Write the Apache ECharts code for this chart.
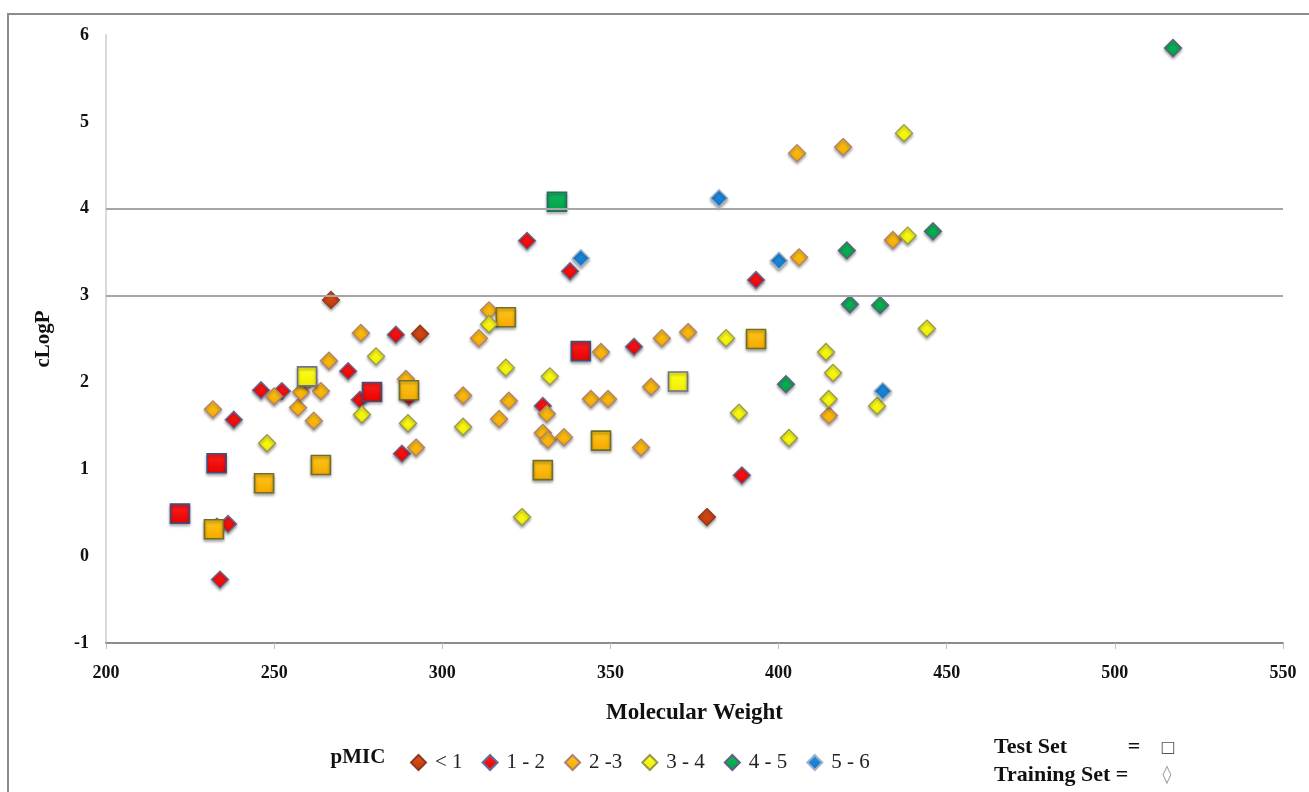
<!DOCTYPE html>
<html>
<head>
<meta charset="utf-8">
<script src="https://cdn.jsdelivr.net/npm/echarts@6/dist/echarts.min.js"></script>
<style>
html,body{margin:0;padding:0;background:#fff;}
#chart{width:1309px;height:792px;}
</style>
</head>
<body>
<div id="chart"></div>
<script>
// ---- Data (Molecular Weight, cLogP) ----
const classNames = ['< 1', '1 - 2', '2 -3', '3 - 4', '4 - 5', '5 - 6'];

// training set (diamonds)
const trainLt1 = [[266.9,2.95],[293.4,2.56],[378.7,0.45]];
const train12 = [[233.0,0.34],[236.3,0.37],[233.9,-0.27],[238.0,1.57],[246.1,1.91],[252.3,1.90],[272.0,2.13],[286.2,2.55],[275.5,1.80],[290.1,1.83],[288.0,1.18],[325.2,3.63],[338.0,3.28],[357.0,2.41],[329.9,1.73],[393.3,3.18],[389.1,0.93]];
const train23 = [[231.8,1.69],[250.0,1.84],[257.1,1.71],[258.0,1.89],[260.1,2.03],[263.9,1.90],[261.8,1.56],[266.3,2.25],[275.8,2.57],[289.2,2.04],[292.2,1.25],[313.9,2.83],[310.9,2.51],[347.2,2.35],[365.3,2.51],[306.2,1.85],[319.8,1.79],[331.1,1.64],[316.9,1.58],[344.2,1.81],[349.3,1.81],[362.1,1.95],[329.9,1.42],[331.4,1.34],[336.2,1.37],[359.1,1.25],[373.1,2.58],[406.1,3.44],[434.0,3.64],[415.0,1.62],[405.5,4.64],[419.2,4.71]];
const train34 = [[247.9,1.30],[280.3,2.30],[276.1,1.63],[289.8,1.53],[313.9,2.67],[318.9,2.17],[332.0,2.07],[306.2,1.49],[323.7,0.45],[438.4,3.69],[444.1,2.62],[384.4,2.51],[414.1,2.35],[416.2,2.11],[414.9,1.81],[429.3,1.73],[388.2,1.65],[403.1,1.36],[437.3,4.87]];
const train45 = [[420.3,3.52],[445.9,3.74],[421.2,2.90],[430.2,2.89],[402.2,1.98],[517.3,5.85]];
const train56 = [[341.2,3.43],[382.3,4.12],[400.1,3.40],[431.0,1.90]];

// test set (squares)
const testLt1 = [];
const test12 = [[222.0,0.49],[232.9,1.07],[279.1,1.89],[341.2,2.36]];
const test23 = [[232.1,0.31],[247.0,0.84],[263.9,1.05],[290.1,1.91],[318.9,2.75],[347.2,1.33],[329.9,0.99],[393.3,2.50]];
const test34 = [[259.8,2.07],[370.1,2.01]];
const test45 = [[334.1,4.08]];
const test56 = [];

const xTicks = [200, 250, 300, 350, 400, 450, 500, 550];
const yTicks = [-1, 0, 1, 2, 3, 4, 5, 6];
const gridLinesY = [3, 4];

// ---- Styles ----
const styles = [
  {light:'#e2561a', dark:'#c2340a', border:'#8a3a20', testBorder:'#6a2a10'},
  {light:'#ff2020', dark:'#e80000', border:'#5a6f9a', testBorder:'#3d4f7a'},
  {light:'#ffc81a', dark:'#f5a800', border:'#b08070', testBorder:'#6f6f2a'},
  {light:'#ffff20', dark:'#eeee00', border:'#98984a', testBorder:'#6f6f8f'},
  {light:'#14b85a', dark:'#00a04a', border:'#5e5e80', testBorder:'#2a6a6a'},
  {light:'#2590e0', dark:'#1276c8', border:'#9fb0c8', testBorder:'#506080'}
];
const trains = [trainLt1, train12, train23, train34, train45, train56];
const tests = [testLt1, test12, test23, test34, test45, test56];

function fill(s){
  return new echarts.graphic.LinearGradient(0, 0, 0, 1, [
    {offset:0, color:s.light},{offset:1, color:s.dark}
  ]);
}

const serif = "'Liberation Serif','Times New Roman',serif";

const series = [{
  type:'scatter', name:'grid', data:[], z:1, silent:true,
  markLine:{
    silent:true, symbol:['none','none'], label:{show:false},
    lineStyle:{color:'#a6a6a6', width:2, type:'solid'},
    data: gridLinesY.map(v => ({yAxis:v}))
  }
}];
classNames.forEach((name, i) => {
  const s = styles[i];
  const data = [];
  trains[i].forEach(p => data.push({value:p}));
  tests[i].forEach(p => data.push({
    value:p, symbol:'rect', symbolSize:19,
    itemStyle:{borderColor:s.testBorder, borderWidth:1.6}
  }));
  series.push({
    type:'scatter', name:name, z:2,
    symbol:'diamond', symbolSize:17,
    itemStyle:{
      color:fill(s), borderColor:s.border, borderWidth:1.3, opacity:1,
      shadowBlur:3, shadowOffsetY:2, shadowColor:'rgba(0,0,0,0.35)'
    },
    data:data
  });
});

const chart = echarts.init(document.getElementById('chart'));
chart.setOption({
  animation:false,
  backgroundColor:'#ffffff',
  grid:{left:106, right:26, top:35, bottom:149},
  xAxis:{
    type:'value', min:xTicks[0], max:xTicks[xTicks.length-1], interval:50,
    name:'Molecular Weight', nameLocation:'middle', nameGap:59,
    nameTextStyle:{fontFamily:serif, fontWeight:'bold', fontSize:23, color:'#111'},
    axisLine:{show:true, onZero:false, lineStyle:{color:'#8c8c8c', width:2}},
    axisTick:{show:true, length:6, inside:false, lineStyle:{color:'#c0c0c0', width:1}},
    axisLabel:{fontFamily:serif, fontWeight:'bold', fontSize:18, color:'#111', margin:21},
    splitLine:{show:false}
  },
  yAxis:{
    type:'value', min:yTicks[0], max:yTicks[yTicks.length-1], interval:1,
    name:'cLogP', nameLocation:'middle', nameGap:52, nameRotate:90,
    nameTextStyle:{fontFamily:serif, fontWeight:'bold', fontSize:21, color:'#111'},
    axisLine:{show:true, onZero:false, lineStyle:{color:'#d9d9d9', width:2}},
    axisTick:{show:false},
    axisLabel:{fontFamily:serif, fontWeight:'bold', fontSize:18, color:'#111', margin:17},
    splitLine:{show:false}
  },
  legend:{
    data:classNames, left:405, top:747, icon:'diamond',
    itemWidth:15, itemHeight:15, itemGap:19,
    textStyle:{fontFamily:serif, fontSize:21, color:'#222', padding:[0,0,0,4]}
  },
  graphic:[
    {type:'rect', silent:true, z:-1, shape:{x:8, y:14, width:1400, height:900},
     style:{fill:'none', stroke:'#8c8c8c', lineWidth:2}},
    {type:'text', silent:true, style:{text:'pMIC', x:358, y:758, textAlign:'center', textVerticalAlign:'middle',
     font:"bold 21px 'Liberation Serif', serif", fill:'#111'}},
    {type:'text', silent:true, style:{text:'Test Set', x:994, y:747, textAlign:'left', textVerticalAlign:'middle',
     font:"bold 22px 'Liberation Serif', serif", fill:'#111'}},
    {type:'text', silent:true, style:{text:'=', x:1134, y:747, textAlign:'center', textVerticalAlign:'middle',
     font:"bold 22px 'Liberation Serif', serif", fill:'#111'}},
    {type:'text', silent:true, style:{text:'□', x:1168, y:748, textAlign:'center', textVerticalAlign:'middle',
     font:"16px 'DejaVu Sans', sans-serif", fill:'#555'}},
    {type:'text', silent:true, style:{text:'Training Set =', x:994, y:775, textAlign:'left', textVerticalAlign:'middle',
     font:"bold 22px 'Liberation Serif', serif", fill:'#111'}},
    {type:'text', silent:true, style:{text:'◊', x:1167, y:775, textAlign:'center', textVerticalAlign:'middle',
     font:"18px 'DejaVu Sans', sans-serif", fill:'#999'}}
  ],
  series:series
});
</script>
</body>
</html>
